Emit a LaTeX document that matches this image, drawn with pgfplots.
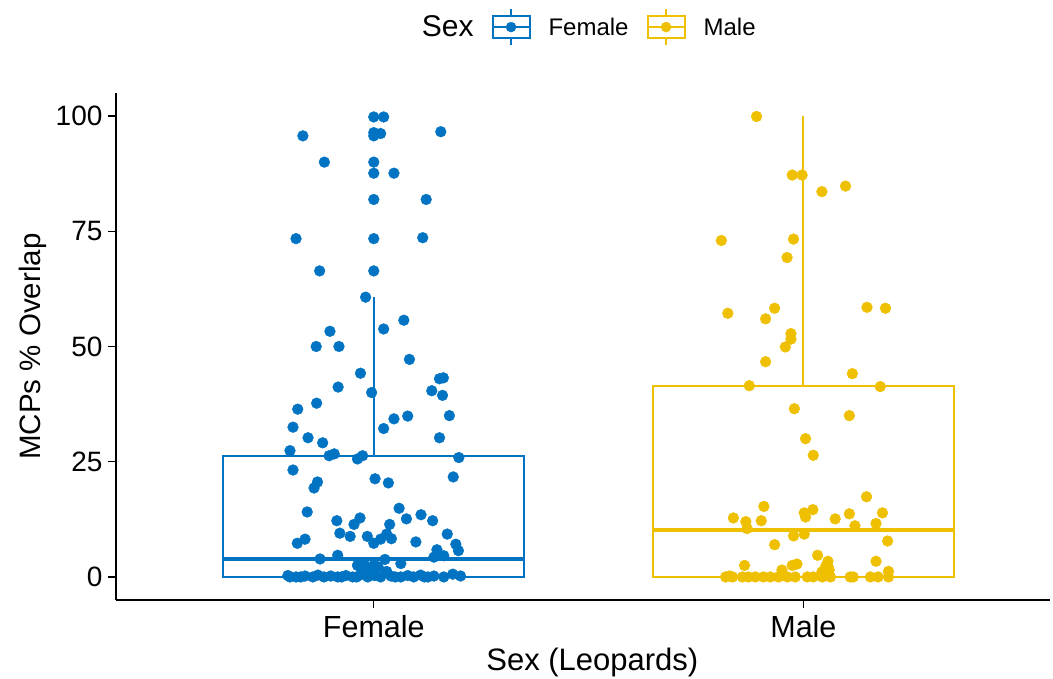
\documentclass[border=0pt]{standalone}
\usepackage{pgfplots}
\pgfplotsset{compat=1.18}
\usepackage{fontspec}
\setmainfont{Liberation Sans}
\definecolor{femc}{HTML}{0073C2}
\definecolor{malec}{HTML}{EFC000}

\pgfplotsset{
  boxicon/.style={legend image code/.code={%
    \draw[#1, line width=2pt, fill=white] (0pt,-11pt) rectangle (37pt,11pt);
    \draw[#1, line width=2pt] (18.5pt,-18pt)--(18.5pt,-11pt) (18.5pt,11pt)--(18.5pt,18pt) (0pt,0pt)--(37pt,0pt);
    \fill[#1] (18.5pt,0pt) circle (5pt);
  }}}

\begin{document}
\begin{tikzpicture}
\path[use as bounding box] (-116pt,-79pt) rectangle (937pt,600pt);
\begin{axis}[
    scale only axis, width=934pt, height=507pt,
    xmin=0.4, xmax=2.574, ymin=-5, ymax=105,
    axis x line*=bottom, axis y line*=left,
    axis line style={line width=1.7pt, black},
    xtick={1,2}, xticklabels={Female,Male},
    ytick={0,25,50,75,100},
    tick align=outside, major tick length=8pt,
    tick style={line width=1.4pt, black},
    /pgf/number format/assume math mode=true,
    yticklabel style={font=\fontsize{28}{33}\selectfont, xshift=-2pt},
    xticklabel style={font=\fontsize{30.5}{35}\selectfont, yshift=-4pt},
    xlabel={Sex (Leopards)}, ylabel={MCPs \% Overlap},
    every axis x label/.append style={font=\fontsize{31}{36}\selectfont,
      at={(axis description cs:0.510,-0.124)}, anchor=center},
    every axis y label/.append style={font=\fontsize{29.5}{34}\selectfont,
      at={(axis description cs:-0.0889,0.5)}, rotate=0, anchor=center},
    legend columns=-1,
    legend style={at={(0.308,1.13)}, anchor=west, draw=none, inner sep=0pt,
      font=\fontsize{24}{28}\selectfont, column sep=18pt, nodes={inner sep=0pt}},
]
\addlegendimage{empty legend}
\addlegendentry{\fontsize{30}{34}\selectfont Sex}
\addlegendimage{boxicon=femc}
\addlegendentry{Female}
\addlegendimage{boxicon=malec}
\addlegendentry{Male}

% female box
\addplot[draw=femc, fill=white, line width=2pt, forget plot] coordinates {(0.65,0) (1.35,0) (1.35,26.3) (0.65,26.3)} -- cycle;
\addplot[draw=femc, line width=2pt, forget plot] coordinates {(1,26.3) (1,60.7)};
\addplot[draw=femc, line width=4.2pt, forget plot] coordinates {(0.65,3.9) (1.35,3.9)};
% male box
\addplot[draw=malec, fill=white, line width=2pt, forget plot] coordinates {(1.65,0) (2.35,0) (2.35,41.5) (1.65,41.5)} -- cycle;
\addplot[draw=malec, line width=2pt, forget plot] coordinates {(2,41.5) (2,100)};
\addplot[draw=malec, line width=4.2pt, forget plot] coordinates {(1.65,10.2) (2.35,10.2)};

% female jitter
\addplot[only marks, mark=*, mark size=5.4pt, color=femc, forget plot] coordinates {
(1.000,99.8) (1.023,99.8) (0.835,95.7) (1.000,96.4) (1.016,96.2) (1.000,95.7) (1.156,96.6)
(0.885,90.0) (1.000,90.0) (1.000,87.6) (1.047,87.6) (1.000,81.9) (1.122,81.9)
(0.819,73.4) (1.000,73.4) (1.114,73.6) (0.874,66.4) (1.000,66.4) (0.981,60.7)
(1.070,55.7) (0.898,53.3) (1.023,53.8) (0.866,50.0) (0.919,50.0) (1.083,47.2)
(0.969,44.2) (1.153,43.0) (1.162,43.2) (0.917,41.2) (0.995,40.0) (1.135,40.4) (1.160,39.4)
(0.823,36.4) (0.867,37.7) (1.176,35.0) (1.047,34.3) (1.079,34.9) (1.023,32.2) (0.812,32.5)
(0.847,30.2) (0.881,29.1) (1.153,30.2) (0.805,27.4) (0.896,26.3) (0.908,26.7) (0.962,25.6)
(0.974,26.3) (1.198,25.9) (0.812,23.2) (1.003,21.3) (1.034,20.4) (1.185,21.7) (0.869,20.6)
(0.861,19.3) (0.845,14.1) (1.059,14.9) (1.076,12.6) (1.110,13.5) (1.137,12.2) (0.914,12.2)
(0.968,12.8) (0.954,11.4) (1.037,11.4) (0.921,9.5) (0.945,8.8) (0.985,8.8) (1.000,7.3)
(1.016,8.2) (1.030,9.3) (1.041,8.3) (1.171,9.3) (1.098,7.6) (0.822,7.3) (0.840,8.2)
(1.191,7.1) (1.197,5.7) (1.147,5.9) (0.875,3.9) (0.916,4.7) (1.026,3.8) (1.063,2.9)
(1.140,4.3) (1.163,4.6) (0.962,2.5) (0.977,2.9) (1.000,2.5)
(0.800,0.3) (0.819,0.0) (0.840,0.2) (0.858,0.0) (0.870,0.4) (0.884,0.0) (0.900,0.2)
(0.916,0.0) (0.935,0.3) (0.951,0.0) (0.970,0.5) (0.986,0.0) (1.002,0.3) (1.016,0.0)
(1.040,0.2) (1.063,0.0) (1.079,0.3) (1.093,0.0) (1.109,0.4) (1.126,0.0) (1.140,0.2)
(1.163,0.0) (1.184,0.6) (1.202,0.2) (0.830,0.0) (0.925,0.0) (0.960,0.0) (1.030,1.2)
(0.995,1.5) (0.975,1.0) (1.010,2.2) (1.050,0.0) (1.118,0.0) (0.805,0.0)
};
% male jitter
\addplot[only marks, mark=*, mark size=5.4pt, color=malec, forget plot] coordinates {
(1.891,99.9) (1.974,87.2) (1.997,87.2) (2.043,83.6) (2.098,84.8) (1.809,73.0) (1.977,73.3)
(1.962,69.3) (1.824,57.2) (1.933,58.3) (1.912,56.0) (2.148,58.5) (2.191,58.3) (1.971,52.8)
(1.971,51.6) (1.958,49.9) (1.912,46.7) (2.114,44.1) (1.874,41.5) (2.179,41.3) (1.979,36.5)
(2.107,35.0) (2.005,30.0) (2.023,26.4) (2.147,17.4) (1.908,15.3) (1.837,12.8) (1.866,12.0)
(1.869,10.5) (1.902,12.2) (2.002,13.9) (2.022,14.6) (2.005,13.0) (2.074,12.6) (2.107,13.7)
(2.184,13.9) (2.120,11.1) (2.169,11.6) (1.977,8.9) (2.002,9.3) (2.196,7.8) (1.933,7.0)
(2.033,4.7) (2.057,3.4) (2.060,1.5) (2.169,3.4) (1.863,2.5) (1.985,2.8) (1.974,2.5)
(1.950,1.5) (2.043,1.1) (2.198,1.2) (2.052,2.3) (2.058,2.1)
(1.819,0) (1.835,0) (1.858,0) (1.872,0) (1.888,0) (1.907,0) (1.923,0) (1.942,0) (1.963,0)
(1.981,0) (2.009,0) (2.023,0) (2.044,0) (2.063,0) (2.109,0) (2.116,0) (2.156,0) (2.174,0)
(2.198,0) (1.828,0.2) (1.950,0.3)
};
\end{axis}
\end{tikzpicture}
\end{document}
